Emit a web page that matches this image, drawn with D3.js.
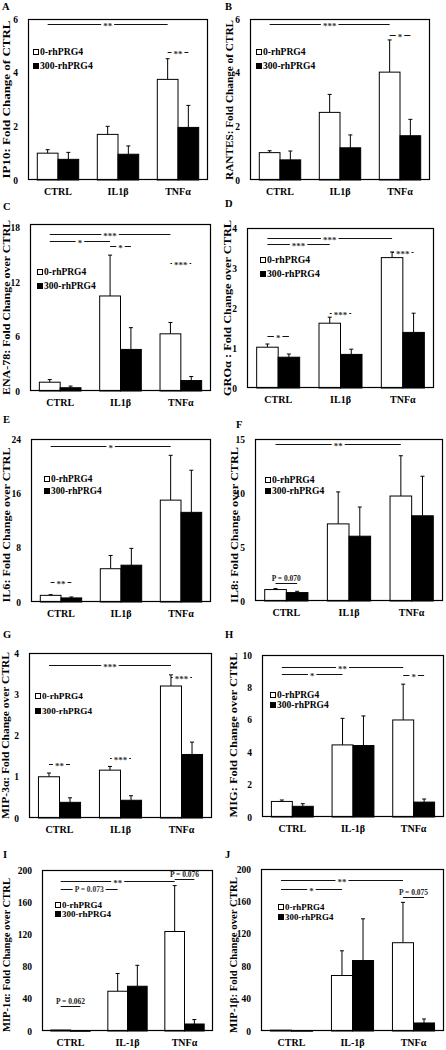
<!DOCTYPE html>
<html><head><meta charset="utf-8">
<script src="https://cdn.jsdelivr.net/npm/d3@7"></script>
<style>
html,body{margin:0;padding:0;background:#fff;}
svg{display:block;font-family:"Liberation Serif","Times New Roman",serif;font-weight:bold;}
</style></head><body>
<svg id="chart" width="446" height="1050"></svg>
<script>
// ---------- DATA ----------
const groups = ["CTRL", "IL1β", "TNFα"];
const groupsDash = ["CTRL", "IL-1β", "TNFα"];
const seriesNames = ["0-rhPRG4", "300-rhPRG4"];

// A: IP10
const ip10Mean0 = [1.0, 1.7, 3.75];
const ip10Err0 = [0.13, 0.3, 0.77];
const ip10Mean300 = [0.77, 0.96, 1.96];
const ip10Err300 = [0.26, 0.31, 0.82];
const ip10Ticks = [0, 2, 4, 6];
const ip10Sig = [
  {from: [0, 0], to: [2, 0], y: 5.8, label: "**", kind: "inline"},
  {from: [2, 0], to: [2, 1], y: 4.76, label: "**", kind: "inline"}
];

// B: RANTES
const rantesMean0 = [1.02, 2.52, 4.02];
const rantesErr0 = [0.07, 0.67, 1.2];
const rantesMean300 = [0.75, 1.2, 1.65];
const rantesErr300 = [0.33, 0.48, 0.61];
const rantesTicks = [0, 2, 4, 6];
const rantesSig = [
  {from: [0, 0], to: [2, 0], y: 5.8, label: "***", kind: "inline"},
  {from: [2, 0], to: [2, 1], y: 5.4, label: "*", kind: "inline"}
];

// C: ENA-78
const enaMean0 = [0.97, 10.47, 6.3];
const enaErr0 = [0.29, 4.5, 1.25];
const enaMean300 = [0.36, 4.58, 1.15];
const enaErr300 = [0.18, 2.4, 0.45];
const enaTicks = [0, 6, 12, 18];
const enaSig = [
  {from: [0, 0], to: [2, 0], y: 17.3, label: "***", kind: "inline"},
  {from: [0, 0], to: [1, 0], y: 16.5, label: "*", kind: "inline"},
  {from: [1, 0], to: [1, 1], y: 16.0, label: "*", kind: "inline"},
  {from: [2, 0], to: [2, 1], y: 14.15, label: "***", kind: "inline"}
];

// D: GROα
const groMean0 = [1.02, 1.62, 3.26];
const groErr0 = [0.08, 0.15, 0.14];
const groMean300 = [0.77, 0.84, 1.39];
const groErr300 = [0.08, 0.13, 0.48];
const groTicks = [0, 1, 2, 3, 4];
const groSig = [
  {from: [0, 0], to: [2, 0], y: 3.75, label: "***", kind: "inline"},
  {from: [0, 0], to: [1, 0], y: 3.61, label: "***", kind: "inline"},
  {from: [0, 0], to: [0, 1], y: 1.29, label: "*", kind: "inline"},
  {from: [1, 0], to: [1, 1], y: 1.88, label: "***", kind: "inline"},
  {from: [2, 0], to: [2, 1], y: 3.39, label: "***", kind: "inline"}
];

// E: IL6
const il6Mean0 = [0.98, 4.9, 15.0];
const il6Err0 = [0.1, 1.95, 6.6];
const il6Mean300 = [0.6, 5.42, 13.2];
const il6Err300 = [0.14, 2.48, 6.2];
const il6Ticks = [0, 8, 16, 24];
const il6Sig = [
  {from: [0, 0], to: [2, 0], y: 22.9, label: "*", kind: "inline"},
  {from: [0, 0], to: [0, 1], y: 2.96, label: "**", kind: "inline"}
];

// F: IL8
const il8Mean0 = [1.06, 7.14, 9.72];
const il8Err0 = [0.09, 2.96, 3.73];
const il8Mean300 = [0.78, 6.0, 7.89];
const il8Err300 = [0.12, 2.7, 3.66];
const il8Ticks = [0, 5, 10, 15];
const il8Sig = [
  {from: [0, 0], to: [2, 0], y: 14.5, label: "**", kind: "inline"},
  {from: [0, 0], to: [0, 1], y: 1.7, label: "P = 0.070", kind: "above"}
];

// G: MIP-3α
const mip3aMean0 = [1.0, 1.16, 3.2];
const mip3aErr0 = [0.09, 0.09, 0.27];
const mip3aMean300 = [0.38, 0.43, 1.54];
const mip3aErr300 = [0.11, 0.11, 0.3];
const mip3aTicks = [0, 1, 2, 3, 4];
const mip3aSig = [
  {from: [0, 0], to: [2, 0], y: 3.7, label: "***", kind: "inline"},
  {from: [2, 0], to: [2, 1], y: 3.43, label: "***", kind: "inline"},
  {from: [1, 0], to: [1, 1], y: 1.45, label: "***", kind: "inline"},
  {from: [0, 0], to: [0, 1], y: 1.31, label: "**", kind: "inline"}
];

// H: MIG
const migMean0 = [0.96, 4.45, 5.99];
const migErr0 = [0.09, 1.64, 2.21];
const migMean300 = [0.66, 4.41, 0.92];
const migErr300 = [0.16, 1.83, 0.19];
const migTicks = [0, 2, 4, 6, 8, 10];
const migSig = [
  {from: [0, 0], to: [2, 0], y: 9.27, label: "**", kind: "inline"},
  {from: [0, 0], to: [1, 0], y: 8.82, label: "*", kind: "inline"},
  {from: [2, 0], to: [2, 1], y: 8.76, label: "*", kind: "inline"}
];

// I: MIP-1α
const mip1aMean0 = [1.2, 49.4, 123.6];
const mip1aErr0 = [0, 22, 57];
const mip1aMean300 = [0.4, 55.6, 8.7];
const mip1aErr300 = [0, 26, 5.5];
const mip1aTicks = [0, 40, 80, 120, 160, 200];
const mip1aSig = [
  {from: [0, 0], to: [2, 0], y: 186, label: "**", kind: "inline"},
  {from: [0, 0], to: [1, 0], y: 177, label: "P = 0.073", kind: "inline"},
  {from: [2, 0], to: [2, 1], y: 189, label: "P = 0.076", kind: "above"},
  {from: [0, 0], to: [0, 1], y: 30.7, label: "P = 0.062", kind: "above"}
];

// J: MIP-1β
const mip1bMean0 = [1.0, 68.5, 109];
const mip1bErr0 = [0, 30.5, 49.8];
const mip1bMean300 = [0.5, 87, 9.9];
const mip1bErr300 = [0, 51.5, 4.9];
const mip1bTicks = [0, 40, 80, 120, 160, 200];
const mip1bSig = [
  {from: [0, 0], to: [2, 0], y: 186, label: "**", kind: "inline"},
  {from: [0, 0], to: [1, 0], y: 175.7, label: "*", kind: "inline"},
  {from: [2, 0], to: [2, 1], y: 165, label: "P = 0.075", kind: "above"}
];

// ---------- LAYOUT ----------
const panels = [
  {letter: "A", lx: 2, ly: 9.5, title: "IP10: Fold Change of CTRL", cats: groups,
   m0: ip10Mean0, e0: ip10Err0, m1: ip10Mean300, e1: ip10Err300, ticks: ip10Ticks, yMax: 6, sig: ip10Sig,
   L: 28, R: 208, T: 19, B: 180, tx: 9.5, ty: 99.5, tlen: 158, leg: {x: 33, y: 52, dy: 14, fs: 9.7}},
  {letter: "B", lx: 225, ly: 9.5, title: "RANTES: Fold Change of CTRL", cats: groups,
   m0: rantesMean0, e0: rantesErr0, m1: rantesMean300, e1: rantesErr300, ticks: rantesTicks, yMax: 6, sig: rantesSig,
   L: 250, R: 430, T: 19, B: 180, tx: 233, ty: 100, tlen: 160, leg: {x: 256, y: 52, dy: 14, fs: 9.6}},
  {letter: "C", lx: 3, ly: 210, title: "ENA-78: Fold Change over CTRL", cats: groups,
   m0: enaMean0, e0: enaErr0, m1: enaMean300, e1: enaErr300, ticks: enaTicks, yMax: 18.4, sig: enaSig,
   L: 30, R: 211, T: 224, B: 391, tx: 9.5, ty: 307.5, tlen: 175, leg: {x: 37, y: 272, dy: 14, fs: 9.5}},
  {letter: "D", lx: 225, ly: 207, title: "GROα : Fold Change over CTRL", cats: groups,
   m0: groMean0, e0: groErr0, m1: groMean300, e1: groErr300, ticks: groTicks, yMax: 4, sig: groSig,
   L: 247, R: 434, T: 228, B: 388, tx: 231, ty: 308, tlen: 176, leg: {x: 260, y: 260, dy: 14, fs: 9.7}},
  {letter: "E", lx: 3, ly: 423, title: "IL6: Fold Change over CTRL", cats: groups,
   m0: il6Mean0, e0: il6Err0, m1: il6Mean300, e1: il6Err300, ticks: il6Ticks, yMax: 24, sig: il6Sig,
   L: 31, R: 211, T: 439, B: 602, tx: 9.5, ty: 525, tlen: 155, leg: {x: 44, y: 479, dy: 12, fs: 9.3}},
  {letter: "F", lx: 236, ly: 428, title: "IL8: Fold Change over CTRL", cats: groups,
   m0: il8Mean0, e0: il8Err0, m1: il8Mean300, e1: il8Err300, ticks: il8Ticks, yMax: 15, sig: il8Sig,
   L: 255, R: 443, T: 439, B: 601, tx: 238, ty: 525, tlen: 156, leg: {x: 265, y: 480, dy: 11, fs: 9.6}},
  {letter: "G", lx: 3, ly: 638, title: "MIP-3α: Fold Change over CTRL", cats: groups,
   m0: mip3aMean0, e0: mip3aErr0, m1: mip3aMean300, e1: mip3aErr300, ticks: mip3aTicks, yMax: 4, sig: mip3aSig,
   L: 29, R: 212, T: 653, B: 818, tx: 8.5, ty: 735.5, tlen: 167, leg: {x: 35, y: 696, dy: 15, fs: 9.2}},
  {letter: "H", lx: 225, ly: 638, title: "MIG: Fold Change over CTRL", cats: groupsDash,
   m0: migMean0, e0: migErr0, m1: migMean300, e1: migErr300, ticks: migTicks, yMax: 10, sig: migSig,
   L: 262, R: 444, T: 655, B: 817, tx: 237, ty: 735, tlen: 165, leg: {x: 270, y: 695, dy: 10, fs: 9.5}},
  {letter: "I", lx: 3, ly: 858, title: "MIP-1α: Fold Change over CTRL", cats: groupsDash,
   m0: mip1aMean0, e0: mip1aErr0, m1: mip1aMean300, e1: mip1aErr300, ticks: mip1aTicks, yMax: 200, sig: mip1aSig,
   L: 42, R: 213, T: 870, B: 1031, tx: 9.5, ty: 955, tlen: 154, leg: {x: 55, y: 905, dy: 9, fs: 9}},
  {letter: "J", lx: 225, ly: 858, title: "MIP-1β: Fold Change over CTRL", cats: groupsDash,
   m0: mip1bMean0, e0: mip1bErr0, m1: mip1bMean300, e1: mip1bErr300, ticks: mip1bTicks, yMax: 200, sig: mip1bSig,
   L: 261, R: 444, T: 869, B: 1031, tx: 237, ty: 955, tlen: 156, leg: {x: 278, y: 907, dy: 10, fs: 8.9}}
];

const svg = d3.select("#chart");

panels.forEach(p => {
  const g = svg.append("g");
  const x = d3.scaleBand().domain(p.cats).range([p.L, p.R]).paddingInner(0.31).paddingOuter(0.155);
  const xs = d3.scaleBand().domain([0, 1]).range([0, x.bandwidth()]);
  const y = d3.scaleLinear().domain([0, p.yMax]).range([p.B, p.T]);

  const rows = p.cats.map((c, i) => [
    {cat: c, s: 0, v: p.m0[i], e: p.e0[i]},
    {cat: c, s: 1, v: p.m1[i], e: p.e1[i]}
  ]).flat();

  // error bars
  rows.forEach(d => {
    if (d.e <= 0) return;
    const cx = x(d.cat) + xs(d.s) + xs.bandwidth() / 2;
    g.append("line").attr("x1", cx).attr("x2", cx).attr("y1", y(d.v)).attr("y2", y(d.v + d.e))
      .attr("stroke", "#000").attr("stroke-width", 1);
    g.append("line").attr("x1", cx - 2).attr("x2", cx + 2).attr("y1", y(d.v + d.e)).attr("y2", y(d.v + d.e))
      .attr("stroke", "#000").attr("stroke-width", 1);
  });

  // bars
  g.selectAll("rect.bar").data(rows).join("rect").attr("class", "bar")
    .attr("x", d => x(d.cat) + xs(d.s))
    .attr("width", xs.bandwidth())
    .attr("y", d => y(d.v))
    .attr("height", d => Math.max(0.6, y(0) - y(d.v)))
    .attr("fill", d => d.s === 0 ? "#fff" : "#000")
    .attr("stroke", "#000").attr("stroke-width", 1);

  // box
  g.append("rect").attr("x", p.L + 0.5).attr("y", p.T + 0.5)
    .attr("width", p.R - p.L - 1).attr("height", p.B - p.T - 1)
    .attr("fill", "none").attr("stroke", "#000").attr("stroke-width", 1.2);

  // y tick labels
  g.selectAll("text.tick").data(p.ticks).join("text").attr("class", "tick")
    .attr("x", p.L - 10).attr("y", d => y(d) + 3.5)
    .attr("text-anchor", "end").attr("font-size", 9.5).text(d => d);

  // x labels
  g.selectAll("text.xl").data(p.cats).join("text").attr("class", "xl")
    .attr("x", d => x(d) + x.bandwidth() / 2).attr("y", p.B + 15)
    .attr("text-anchor", "middle").attr("font-size", 10).text(d => d);

  // y title
  g.append("text").attr("transform", `translate(${p.tx},${p.ty}) rotate(-90)`)
    .attr("text-anchor", "middle").attr("font-size", 11)
    .attr("textLength", p.tlen).attr("lengthAdjust", "spacingAndGlyphs").text(p.title);

  // panel letter
  g.append("text").attr("x", p.lx).attr("y", p.ly).attr("font-size", 10.5).text(p.letter);

  // legend
  seriesNames.forEach((name, i) => {
    const ly = p.leg.y + i * p.leg.dy;
    g.append("rect").attr("x", p.leg.x + 0.5).attr("y", ly - 2.5).attr("width", 5).attr("height", 5)
      .attr("fill", i === 0 ? "#fff" : "#000").attr("stroke", "#000").attr("stroke-width", 1);
    g.append("text").attr("x", p.leg.x + 7).attr("y", ly + 3.3).attr("font-size", p.leg.fs).text(name);
  });

  // significance annotations
  p.sig.forEach(s => {
    const x1 = x(p.cats[s.from[0]]) + xs(s.from[1]) + xs.bandwidth() / 2;
    const x2 = x(p.cats[s.to[0]]) + xs(s.to[1]) + xs.bandwidth() / 2;
    const yy = Math.round(y(s.y)) + 0.5;
    const mid = (x1 + x2) / 2;
    g.append("line").attr("x1", x1).attr("x2", x2).attr("y1", yy).attr("y2", yy)
      .attr("stroke", "#111").attr("stroke-width", 1);
    const isStar = s.label.indexOf("*") >= 0;
    const fs = isStar ? 9 : 7.5;
    if (s.kind === "inline") {
      const t = g.append("text").attr("x", mid).attr("text-anchor", "middle")
        .attr("font-size", fs).attr("fill", "#333")
        .attr("y", yy + (isStar ? 4.6 : 2.7)).text(s.label);
      const w = t.node().getComputedTextLength();
      g.insert("rect", () => t.node()).attr("x", mid - w / 2 - 2).attr("y", yy - 2)
        .attr("width", w + 4).attr("height", 4).attr("fill", "#fff");
    } else {
      g.append("text").attr("x", mid).attr("text-anchor", "middle")
        .attr("font-size", fs).attr("fill", "#222")
        .attr("y", yy - 2.5).text(s.label);
    }
  });
});
</script>
</body></html>
